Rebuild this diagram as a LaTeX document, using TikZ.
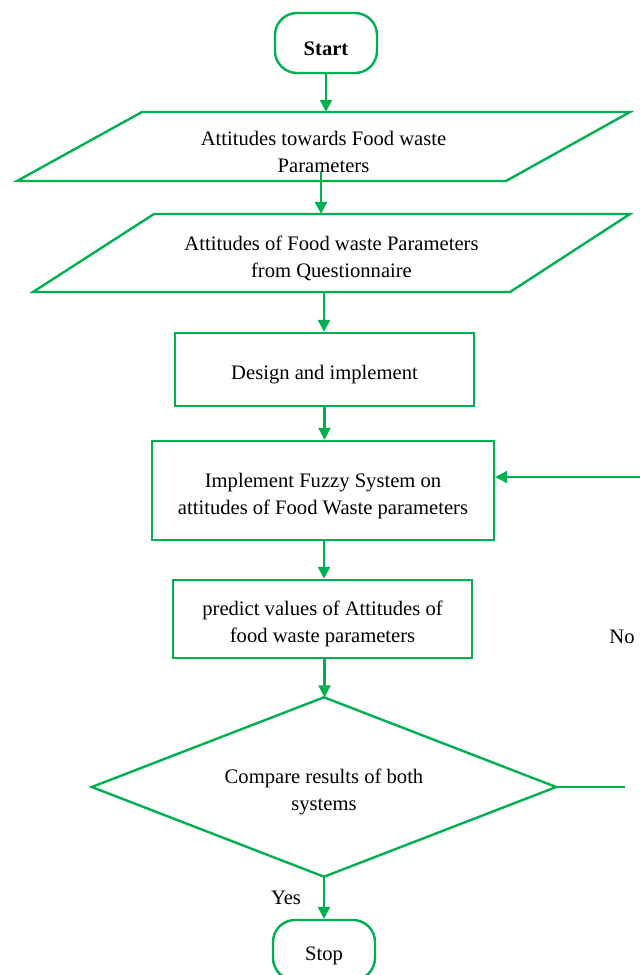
\documentclass[tikz,border=0pt]{standalone}
\usepackage{fontspec}
\setmainfont{Liberation Serif}
\usetikzlibrary{arrows.meta}
\definecolor{flowgreen}{HTML}{00B050}
\newcommand\lowtxt{\rule{0pt}{24.5pt}}

\begin{document}
\begin{tikzpicture}[x=1pt, y=-1pt,
	txt/.style={inner sep=0pt, align=center, font=\fontsize{20.6}{27}\selectfont},
	box/.style={txt, draw=flowgreen, line width=2.4pt},
	flow/.style={draw=flowgreen, line width=2.4pt, -{Triangle[length=12pt,width=12pt]}},
	link/.style={draw=flowgreen, line width=2.4pt, line join=miter}]
	\clip (0,0) rectangle (640,975);
	\fill[white] (0,0) rectangle (640,975);

	\node[box, rounded corners=22pt, minimum width=102pt, minimum height=60pt, font=\fontsize{20.6}{27}\selectfont\bfseries] (start) at (326,43) {\lowtxt Start};
	\node[txt, minimum width=488pt, minimum height=69pt] (p1) at (323.5,146.5) {\lowtxt Attitudes towards Food waste\\Parameters};
	\node[txt, minimum width=476pt, minimum height=78pt] (p2) at (331.5,253) {\lowtxt Attitudes of Food waste Parameters\\from Questionnaire};
	\node[box, minimum width=299pt, minimum height=73pt] (design) at (324.5,369.5) {\lowtxt Design and implement};
	\node[box, minimum width=342pt, minimum height=99pt] (impl) at (323,490.5) {\lowtxt Implement Fuzzy System on\\attitudes of Food Waste parameters};
	\node[box, minimum width=299pt, minimum height=78pt] (pred) at (322.5,619) {\lowtxt predict values of Attitudes of\\food waste parameters};
	\node[txt, minimum width=464pt, minimum height=179pt] (cmp) at (324,787) {\lowtxt Compare results of both\\systems};
	\node[box, rounded corners=22pt, minimum width=102pt, minimum height=60pt] (stop) at (324,950) {\lowtxt Stop};

	\draw[link] (142,112) -- (630,112) -- (506,181) -- (17,181) -- cycle;
	\draw[link] (154,214) -- (630,214) -- (510,292) -- (33,292) -- cycle;
	\draw[link] (cmp.north) -- (cmp.east) -- (cmp.south) -- (cmp.west) -- cycle;

	\coordinate (noA) at (625,787);
	\coordinate (noB) at (640,477);

	\draw[flow] (start.south) -- (start.south |- p1.north);
	\draw[flow] ([xshift=-2.5pt,yshift=9pt]p1.south) -- ([xshift=-2.5pt]p1.south |- p2.north);
	\draw[flow] ([xshift=-7.5pt]p2.south) -- ([xshift=-7.5pt]p2.south |- design.north);
	\draw[flow] (design.south) -- (design.south |- impl.north);
	\draw[flow] ([xshift=1pt]impl.south) -- ([xshift=1pt]impl.south |- pred.north);
	\draw[flow] ([xshift=2pt]pred.south) -- ([xshift=2pt]pred.south |- cmp.north);
	\draw[flow] (cmp.south) -- (cmp.south |- stop.north);
	\draw[link] (cmp.east) -- (noA);
	\draw[flow] (noB) -- (noB -| impl.east);

	\node[font=\fontsize{20.6}{27}\selectfont] (yes) at (286,898) {Yes};
	\node[font=\fontsize{20.6}{27}\selectfont] (no) at (622,637) {No};
\end{tikzpicture}
\end{document}
